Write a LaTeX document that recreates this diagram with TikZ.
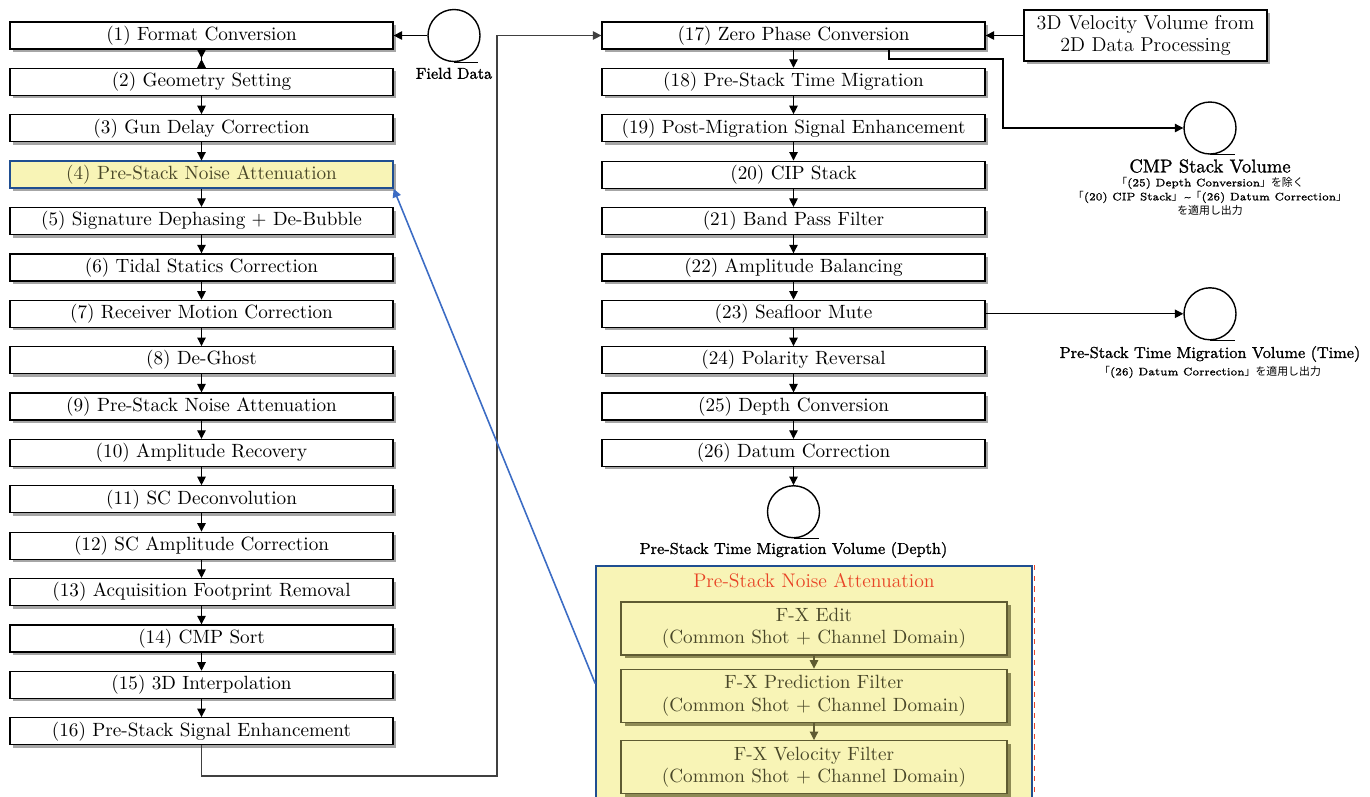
\documentclass[tikz,border=0pt]{standalone}
\usepackage{fontspec}
\newfontfamily\cjk{Noto Sans CJK JP}
\newfontfamily\capfont[FakeBold=1.2]{Latin Modern Roman}
\usepackage{xcolor}
\usepackage{tikz}
\usetikzlibrary{arrows.meta, positioning, shadows}

\definecolor{noteyellow}{RGB}{248,244,182}
\definecolor{hiblue}{RGB}{31,78,145}
\definecolor{linkblue}{RGB}{60,108,196}
\definecolor{boxolive}{RGB}{95,91,50}
\definecolor{shadeolive}{RGB}{142,138,85}
\definecolor{textolive}{RGB}{72,70,40}
\definecolor{titlered}{RGB}{232,68,38}

\newcommand{\flowfont}{\fontsize{10.9}{12.8}\selectfont}

\begin{document}
\begin{tikzpicture}[
    node distance=0.363cm,
    box/.style={rectangle, draw, line width=0.7pt, fill=white, minimum width=7.66cm, minimum height=0.54cm, inner ysep=0pt, font=\flowfont,
        drop shadow={shadow xshift=0.06cm, shadow yshift=-0.06cm, fill=gray!70, opacity=1}},
    hilite/.style={fill=noteyellow, draw=hiblue, line width=1pt, outer sep=0.35pt, text=textolive},
    subbox/.style={rectangle, draw=boxolive, line width=0.8pt, fill=noteyellow, text=textolive, minimum width=7.72cm, minimum height=1.06cm, align=center, font=\flowfont,
        drop shadow={shadow xshift=0.07cm, shadow yshift=-0.07cm, fill=shadeolive, opacity=1}},
    panel/.style={rectangle, draw=hiblue, line width=0.9pt, fill=noteyellow, minimum width=8.72cm, minimum height=4.7cm},
    tape/.style={circle, draw, line width=0.8pt, minimum size=1.04cm, inner sep=0pt},
    caption/.style={font=\capfont\fontsize{9}{10}\selectfont, align=center, inner sep=1pt},
    note/.style={font=\capfont\fontsize{6.2}{8}\selectfont, align=center, inner sep=1pt},
    arrow/.style={-{Triangle[length=1.7mm, width=1.7mm]}, line width=0.6pt}
]
\useasboundingbox (0,0) rectangle (27.4,-15.92);

% left column
\node[box] (format) at (4.03,-0.71) {(1) Format Conversion};
\node[box, below=of format] (geometry) {(2) Geometry Setting};
\node[box, below=of geometry] (gundelay) {(3) Gun Delay Correction};
\node[box, hilite, below=of gundelay] (noise) {(4) Pre-Stack Noise Attenuation};
\node[box, below=of noise] (signature) {(5) Signature Dephasing + De-Bubble};
\node[box, below=of signature] (tidal) {(6) Tidal Statics Correction};
\node[box, below=of tidal] (receiver) {(7) Receiver Motion Correction};
\node[box, below=of receiver] (deghost) {(8) De-Ghost};
\node[box, below=of deghost] (noisetwo) {(9) Pre-Stack Noise Attenuation};
\node[box, below=of noisetwo] (amprecov) {(10) Amplitude Recovery};
\node[box, below=of amprecov] (scdecon) {(11) SC Deconvolution};
\node[box, below=of scdecon] (scamp) {(12) SC Amplitude Correction};
\node[box, below=of scamp] (footprint) {(13) Acquisition Footprint Removal};
\node[box, below=of footprint] (cmpsort) {(14) CMP Sort};
\node[box, below=of cmpsort] (interp) {(15) 3D Interpolation};
\node[box, below=of interp] (presignal) {(16) Pre-Stack Signal Enhancement};

% right column
\node[box] (zerophase) at (15.87,-0.71) {(17) Zero Phase Conversion};
\node[box, below=of zerophase] (premig) {(18) Pre-Stack Time Migration};
\node[box, below=of premig] (postmig) {(19) Post-Migration Signal Enhancement};
\node[box, below=of postmig] (cipstack) {(20) CIP Stack};
\node[box, below=of cipstack] (bandpass) {(21) Band Pass Filter};
\node[box, below=of bandpass] (ampbal) {(22) Amplitude Balancing};
\node[box, below=of ampbal] (seafloor) {(23) Seafloor Mute};
\node[box, below=of seafloor] (polarity) {(24) Polarity Reversal};
\node[box, below=of polarity] (depthconv) {(25) Depth Conversion};
\node[box, below=of depthconv] (datum) {(26) Datum Correction};

\node[box, minimum width=4.86cm, minimum height=1.02cm, align=center, font=\fontsize{11.4}{12.8}\selectfont] (velocity) at (22.91,-0.71) {3D Velocity Volume from\\2D Data Processing};

% data volumes
\node[tape] (fielddata) at (9.08,-0.71) {};
\node[caption, below=0.07cm of fielddata] (fieldcap) {Field Data};
\node[tape] (cmpvol) at (24.2,-2.56) {};
\node[caption, font=\capfont\fontsize{10.6}{11}\selectfont, below=0.05cm of cmpvol] (cmpcap) {CMP Stack Volume};
\node[note, below=0pt of cmpcap] (cmpnote) {{\cjk 「}(25) Depth Conversion{\cjk 」を除く}\\{\cjk 「}(20) CIP Stack{\cjk 」}\,\string~{\cjk 「}(26) Datum Correction{\cjk 」}\\{\cjk を適用し出力}};
\node[tape] (timevol) at (seafloor -| cmpvol) {};
\node[caption, below=0.07cm of timevol] (timecap) {Pre-Stack Time Migration Volume (Time)};
\node[note, below=0pt of timecap] (timenote) {{\cjk 「}(26) Datum Correction{\cjk 」を適用し出力}};
\node[tape, below=0.36cm of datum] (depthvol) {};
\node[caption, below=0.03cm of depthvol] (depthcap) {Pre-Stack Time Migration Volume (Depth)};

\draw[line width=0.8pt] (fielddata.south) -- ++(0.48,0);
\draw[line width=0.8pt] (cmpvol.south) -- ++(0.5,0);
\draw[line width=0.8pt] (timevol.south) -- ++(0.5,0);
\draw[line width=0.8pt] (depthvol.south) -- ++(0.5,0);

% detail of (4)
\node[panel] (panel) at (16.28,-13.67) {};
\draw[titlered, dashed, line width=0.5pt] ([xshift=0.03cm]panel.north east) -- ([xshift=0.03cm]panel.south east);
\node[text=titlered, font=\fontsize{11.2}{13}\selectfont, below=0.05cm of panel.north] (panelname) {Pre-Stack Noise Attenuation};
\node[subbox, below=0.72cm of panel.north] (fxedit) {F-X Edit\\(Common Shot + Channel Domain)};
\node[subbox, below=0.26cm of fxedit] (fxpred) {F-X Prediction Filter\\(Common Shot + Channel Domain)};
\node[subbox, below=0.34cm of fxpred] (fxvel) {F-X Velocity Filter\\(Common Shot + Channel Domain)};

\coordinate (loopturn) at (9.94,-15.52);
\coordinate (cmpturn) at (20.06,-1.18);

\draw[arrow] (fielddata.west) -- (format.east);
\draw[{Triangle[reversed, length=1.7mm, width=1.7mm]}-{Triangle[reversed, length=1.7mm, width=1.7mm]}, line width=0.6pt] (format) -- (geometry);
\draw[arrow] (geometry) -- (gundelay);
\draw[arrow] (gundelay) -- (noise);
\draw[arrow] (noise) -- (signature);
\draw[arrow] (signature) -- (tidal);
\draw[arrow] (tidal) -- (receiver);
\draw[arrow] (receiver) -- (deghost);
\draw[arrow] (deghost) -- (noisetwo);
\draw[arrow] (noisetwo) -- (amprecov);
\draw[arrow] (amprecov) -- (scdecon);
\draw[arrow] (scdecon) -- (scamp);
\draw[arrow] (scamp) -- (footprint);
\draw[arrow] (footprint) -- (cmpsort);
\draw[arrow] (cmpsort) -- (interp);
\draw[arrow] (interp) -- (presignal);
\draw[arrow, draw=black!75] (presignal.south) |- (loopturn) |- (zerophase.west);

\draw[arrow] (velocity.west) -- (zerophase.east);
\draw[arrow] (zerophase) -- (premig);
\draw[arrow] (premig) -- (postmig);
\draw[arrow] (postmig) -- (cipstack);
\draw[arrow] (cipstack) -- (bandpass);
\draw[arrow] (bandpass) -- (ampbal);
\draw[arrow] (ampbal) -- (seafloor);
\draw[arrow] (seafloor) -- (polarity);
\draw[arrow] (polarity) -- (depthconv);
\draw[arrow] (depthconv) -- (datum);
\draw[arrow] (datum) -- (depthvol);
\draw[arrow] ([xshift=1.91cm]zerophase.south) |- (cmpturn) |- (cmpvol);
\draw[arrow] (seafloor.east) -- (timevol);

\draw[arrow, boxolive] (fxedit) -- (fxpred);
\draw[arrow, boxolive] (fxpred) -- (fxvel);
\draw[arrow, linkblue, line width=0.9pt] (panel.west) -- (noise.south east);

\end{tikzpicture}
\end{document}
